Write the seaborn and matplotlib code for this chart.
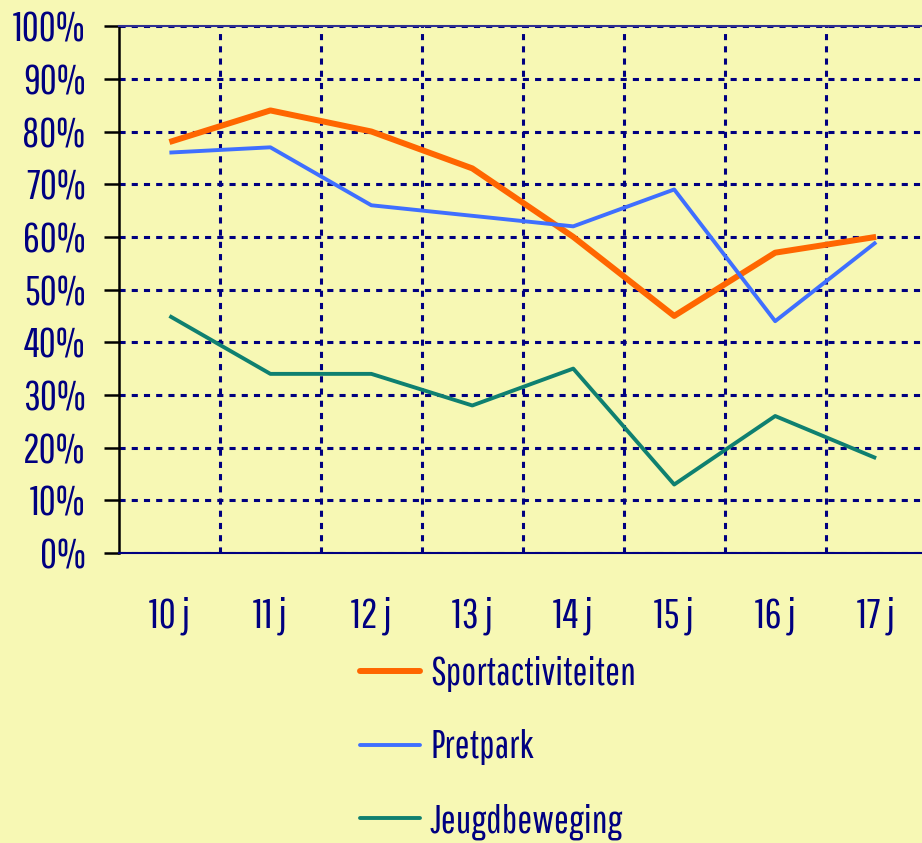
import matplotlib
matplotlib.use("Agg")
import matplotlib.pyplot as plt
from matplotlib.ticker import MultipleLocator, FixedLocator, PercentFormatter
import seaborn as sns
import pandas as pd

# data
ages = ["10 j", "11 j", "12 j", "13 j", "14 j", "15 j", "16 j", "17 j"]
sport = [78, 84, 80, 73, 60, 45, 57, 60]
pretpark = [76, 77, 66, 64, 62, 69, 44, 59]
jeugd = [45, 34, 34, 28, 35, 13, 26, 18]

series_names = ["Sportactiviteiten", "Pretpark", "Jeugdbeweging"]
colors = ["#FF6600", "#3F6FFF", "#0F8070"]
widths = [4.3, 2.8, 2.8]

BG = "#F7F8B4"
NAVY = "#000080"

sns.set_theme(style="white")
plt.rcParams["font.family"] = ["Pathway Gothic One", "DejaVu Sans"]

df = pd.DataFrame({
    "x": list(range(len(ages))) * 3,
    "waarde": sport + pretpark + jeugd,
    "reeks": [n for n in series_names for _ in ages],
})

fig = plt.figure(figsize=(9.22, 8.43), dpi=100, facecolor=BG)
ax = fig.add_axes([0.129, 0.344, 0.876, 0.625])
ax.set_facecolor(BG)

sns.lineplot(data=df, x="x", y="waarde", hue="reeks", hue_order=series_names,
             palette=colors, ax=ax, legend=False, zorder=3)
for line, lw in zip(ax.get_lines(), widths):
    line.set_linewidth(lw)
    line.set_solid_capstyle("butt")

ax.set_xlim(-0.5, len(ages) - 0.5)
ax.set_ylim(0, 100)
ax.yaxis.set_major_locator(MultipleLocator(10))
ax.yaxis.set_major_formatter(PercentFormatter(decimals=0))
ax.xaxis.set_major_locator(FixedLocator(range(len(ages))))
ax.set_xticklabels(ages)
ax.xaxis.set_minor_locator(FixedLocator([i + 0.5 for i in range(len(ages) - 1)]))

grid_kw = dict(color=NAVY, linewidth=2.2, linestyle=(0, (2, 2)))
ax.grid(False)
ax.grid(True, axis="y", which="major", **grid_kw)
ax.grid(True, axis="x", which="minor", **grid_kw)
ax.set_axisbelow(True)

ax.set_xlabel("")
ax.set_ylabel("")
ax.tick_params(axis="y", which="major", direction="out", length=11, width=1.8,
               color="black", labelsize=30, labelcolor=NAVY, pad=13, left=True)
ax.tick_params(axis="x", which="both", length=0, labelsize=30, labelcolor=NAVY, pad=31)

ax.spines["left"].set_color("black")
ax.spines["left"].set_linewidth(1.8)
ax.spines["bottom"].set_color(NAVY)
ax.spines["bottom"].set_linewidth(1.5)
ax.spines["top"].set_color("#303090")
ax.spines["top"].set_linewidth(1.5)
ax.spines["right"].set_visible(False)

handles = [plt.Line2D([], [], color=c, lw=lw, solid_capstyle="round") for c, lw in zip(colors, widths)]
leg = fig.legend(handles, series_names, loc="upper left", bbox_to_anchor=(0.39, 0.222),
                 frameon=False, fontsize=28.5, handlelength=1.52, handletextpad=0.26,
                 labelspacing=0.95, borderaxespad=0, borderpad=0)
for t in leg.get_texts():
    t.set_color(NAVY)

fig.savefig("out.png", dpi=100, facecolor=BG)
